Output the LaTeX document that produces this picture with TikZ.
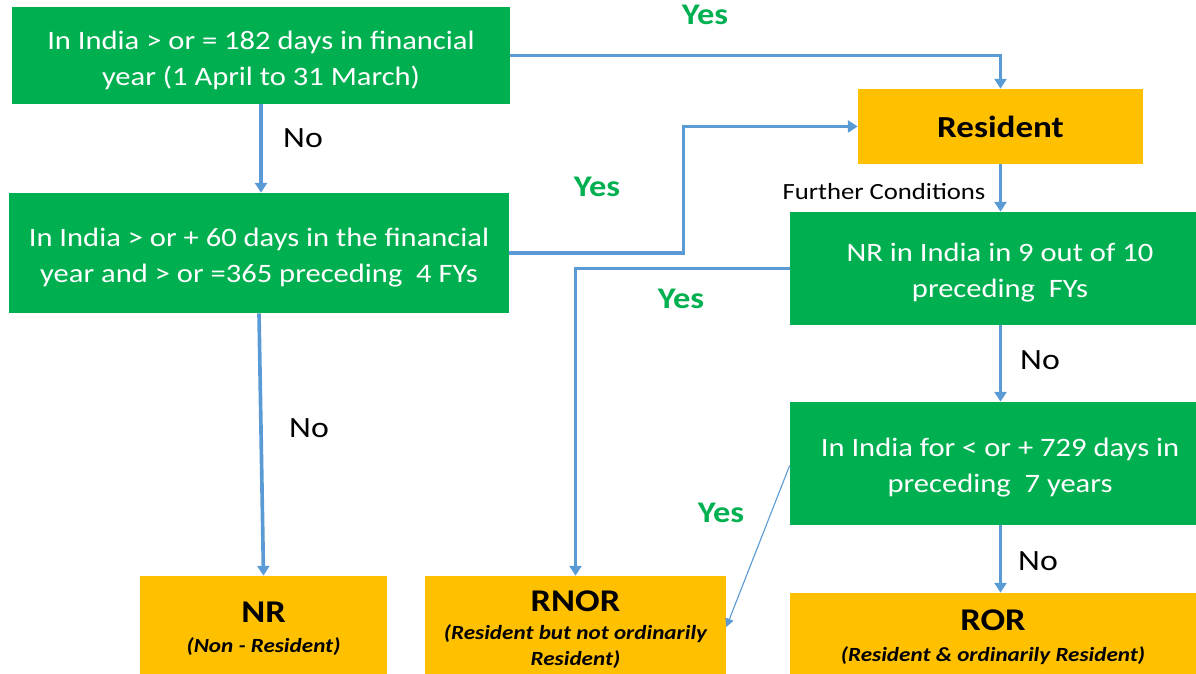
\documentclass[tikz,border=0pt]{standalone}
\usepackage{fontspec}
\setmainfont{Carlito}[FakeStretch=1.15]
\usetikzlibrary{arrows.meta}

\definecolor{boxgreen}{HTML}{00B050}
\definecolor{boxorange}{HTML}{FFC000}
\definecolor{flowblue}{HTML}{5B9BD5}

\tikzset{
    greenbox/.style={fill=boxgreen, text=white, align=center, inner sep=0pt,
        font=\fontsize{18.9}{25.6}\selectfont},
    orangebox/.style={fill=boxorange, text=black, align=center, inner sep=0pt,
        font=\fontsize{14.3}{18.5}\selectfont},
    flow/.style={draw=flowblue, line width=2.6pt, -{Triangle[width=8.5pt,length=7pt]}},
    thinflow/.style={draw=flowblue, line width=0.8pt, -{Triangle[width=6pt,length=6pt]}},
    yeslabel/.style={text=boxgreen, font=\fontsize{21.3}{24}\selectfont\bfseries},
    nolabel/.style={font=\fontsize{20.9}{24}\selectfont}
}
\newcommand{\toprule}[1]{\rule{0pt}{#1}}
\newcommand{\headtxt}[1]{{\fontsize{22.5}{18.5}\selectfont\bfseries #1}}
\newcommand{\subtxt}[1]{{\bfseries\itshape #1}}

\begin{document}
\begin{tikzpicture}[x=0.025cm, y=-0.025cm]

    \useasboundingbox (0,0) rectangle (1196,674);

    % decision boxes
    \node[greenbox, minimum width=12.45cm, minimum height=2.425cm] (stay) at (261,55.5)
        {\toprule{19.6pt}In India > or = 182 days in financial\\year (1 April to 31 March)};
    \node[greenbox, minimum width=12.5cm, minimum height=3cm] (sixty) at (259,253)
        {\toprule{20.2pt}In India > or + 60 days in the financial\\year and > or =365 preceding\ \ 4 FYs};
    \node[greenbox, minimum width=10.15cm, minimum height=2.825cm] (nine) at (993,268.5)
        {\toprule{19.6pt}\hspace*{10pt}NR in India in 9 out of 10\\\hspace*{10pt}preceding\ \ FYs};
    \node[greenbox, minimum width=10.15cm, minimum height=3.075cm] (seven) at (993,463.5)
        {\toprule{18.2pt}\hspace*{10pt}In India for < or + 729 days in\\\hspace*{10pt}preceding\ \ 7 years};

    % results
    \node[orangebox, minimum width=7.125cm, minimum height=1.875cm] (res) at (1000.5,126.5)
        {{\fontsize{21.7}{18.5}\selectfont\bfseries Resident}};
    \node[orangebox, minimum width=6.175cm, minimum height=2.45cm] (nr) at (263.5,625)
        {\toprule{20.4pt}\headtxt{NR}\\[2.8pt]
         \subtxt{(Non - Resident)}};
    \node[orangebox, minimum width=7.525cm, minimum height=2.45cm] (rnor) at (575.5,625)
        {\toprule{21.7pt}\headtxt{RNOR}\\[1.4pt]
         \subtxt{(Resident but not ordinarily}\\
         \subtxt{Resident)}};
    \node[orangebox, minimum width=10.15cm, minimum height=2.025cm] (ror) at (993,633.5)
        {\toprule{20.3pt}\headtxt{ROR}\\[3.5pt]
         \subtxt{(Resident \& ordinarily Resident)}};

    % connectors
    \draw[flow] (stay.east) -| (res.north);
    \draw[flow] (stay.south) -- (stay.south |- sixty.north);
    \draw[flow] (sixty.east) -- ++(174,0) |- (res.west);
    \draw[flow] (sixty.south) -- (nr.north);
    \draw[flow] (res.south) -- (res.south |- nine.north);
    \draw[flow] (nine.west) -| (rnor.north);
    \draw[flow] (res.south |- nine.south) -- (res.south |- seven.north);
    \draw[flow] (res.south |- seven.south) -- (res.south |- ror.north);
    \draw[thinflow] ([yshift=-0.05cm]seven.west) -- ([yshift=-0.05cm]rnor.east);

    % labels
    \node[yeslabel] (yes1) at (705,15) {Yes};
    \node[nolabel] (no1) at (303,138) {No};
    \node[yeslabel] (yes2) at (597,187) {Yes};
    \node[font=\fontsize{16.5}{18}\selectfont] (further) at (884,192) {Further Conditions};
    \node[yeslabel] (yes3) at (681,299) {Yes};
    \node[nolabel] (no2) at (309,428) {No};
    \node[nolabel] (no3) at (1040,360) {No};
    \node[yeslabel] (yes4) at (721,513) {Yes};
    \node[nolabel] (no4) at (1038,561) {No};

\end{tikzpicture}
\end{document}
